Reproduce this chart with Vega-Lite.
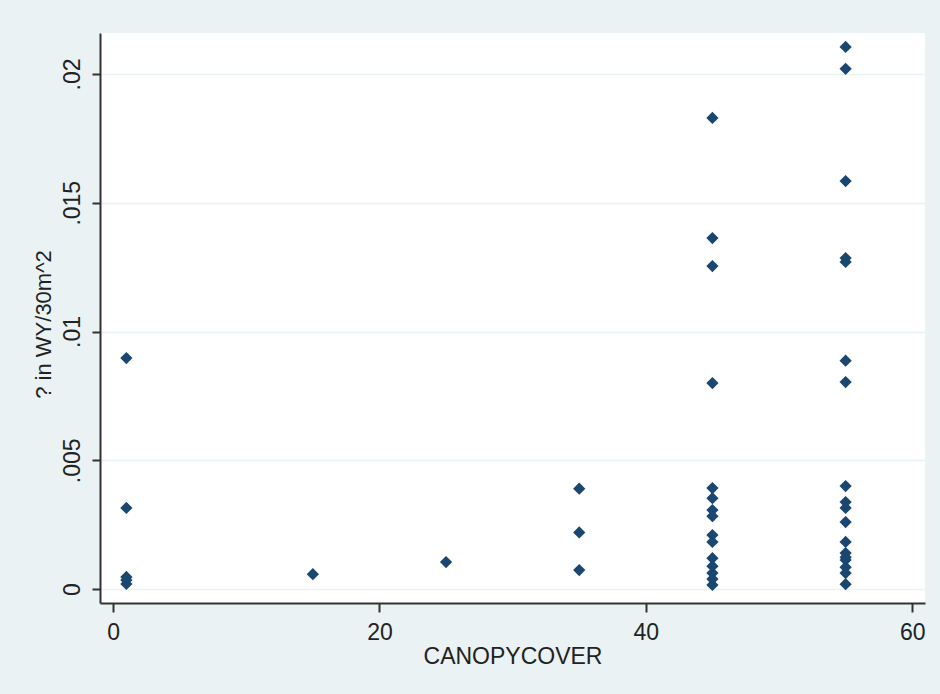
{
  "$schema": "https://vega.github.io/schema/vega-lite/v6.json",
  "width": 825,
  "height": 570,
  "autosize": {"type": "none"},
  "padding": {"left": 100, "top": 33, "right": 15, "bottom": 91},
  "background": "#EAF2F3",
  "config": {
    "view": {"fill": "#FFFFFF", "stroke": null},
    "font": "Liberation Sans"
  },
  "data": {
    "values": [
      {"canopy": 1, "val": 0.00897},
      {"canopy": 1, "val": 0.00315},
      {"canopy": 1, "val": 0.00047},
      {"canopy": 1, "val": 0.00035},
      {"canopy": 1, "val": 0.0002},
      {"canopy": 15, "val": 0.00058},
      {"canopy": 25, "val": 0.00105},
      {"canopy": 35, "val": 0.0039},
      {"canopy": 35, "val": 0.0022},
      {"canopy": 35, "val": 0.00074},
      {"canopy": 45, "val": 0.01829},
      {"canopy": 45, "val": 0.01363},
      {"canopy": 45, "val": 0.01254},
      {"canopy": 45, "val": 0.0080},
      {"canopy": 45, "val": 0.00392},
      {"canopy": 45, "val": 0.00353},
      {"canopy": 45, "val": 0.00307},
      {"canopy": 45, "val": 0.00283},
      {"canopy": 45, "val": 0.0021},
      {"canopy": 45, "val": 0.00183},
      {"canopy": 45, "val": 0.0012},
      {"canopy": 45, "val": 0.00089},
      {"canopy": 45, "val": 0.00062},
      {"canopy": 45, "val": 0.00039},
      {"canopy": 45, "val": 0.00016},
      {"canopy": 55, "val": 0.02105},
      {"canopy": 55, "val": 0.0202},
      {"canopy": 55, "val": 0.01584},
      {"canopy": 55, "val": 0.01285},
      {"canopy": 55, "val": 0.0127},
      {"canopy": 55, "val": 0.00887},
      {"canopy": 55, "val": 0.00804},
      {"canopy": 55, "val": 0.0040},
      {"canopy": 55, "val": 0.00338},
      {"canopy": 55, "val": 0.00315},
      {"canopy": 55, "val": 0.0026},
      {"canopy": 55, "val": 0.00183},
      {"canopy": 55, "val": 0.0014},
      {"canopy": 55, "val": 0.00124},
      {"canopy": 55, "val": 0.00113},
      {"canopy": 55, "val": 0.00085},
      {"canopy": 55, "val": 0.00062},
      {"canopy": 55, "val": 0.00019}
    ]
  },
  "mark": {"type": "point", "shape": "diamond", "filled": true, "size": 150, "color": "#1A476F", "opacity": 1},
  "encoding": {
    "x": {
      "field": "canopy",
      "type": "quantitative",
      "scale": {"domain": [-0.98, 60.96], "nice": false, "zero": false},
      "axis": {
        "title": "CANOPYCOVER",
        "values": [0, 20, 40, 60],
        "grid": false,
        "domainColor": "#333333",
        "domainWidth": 2,
        "tickColor": "#333333",
        "tickWidth": 2,
        "tickSize": 9,
        "labelFontSize": 23,
        "labelColor": "#222222",
        "labelPadding": 9,
        "titleFontSize": 23,
        "titleFontWeight": "normal",
        "titleColor": "#222222",
        "titlePadding": 1
      }
    },
    "y": {
      "field": "val",
      "type": "quantitative",
      "scale": {"domain": [-0.00054, 0.02159], "nice": false, "zero": false},
      "axis": {
        "title": "? in WY/30m^2",
        "values": [0, 0.005, 0.01, 0.015, 0.02],
        "labelExpr": "datum.value == 0 ? '0' : replace(format(datum.value, '.3~f'), '0.', '.')",
        "labelAngle": -90,
        "labelAlign": "center",
        "labelBaseline": "bottom",
        "labelPadding": 8,
        "grid": true,
        "gridColor": "#EAF2F3",
        "gridWidth": 1.5,
        "domainColor": "#333333",
        "domainWidth": 2,
        "tickColor": "#333333",
        "tickWidth": 2,
        "tickSize": 8,
        "labelFontSize": 23,
        "labelColor": "#222222",
        "titleFontSize": 22,
        "titleFontWeight": "normal",
        "titleColor": "#222222",
        "titlePadding": 6,
        "titleY": 291
      }
    }
  }
}
